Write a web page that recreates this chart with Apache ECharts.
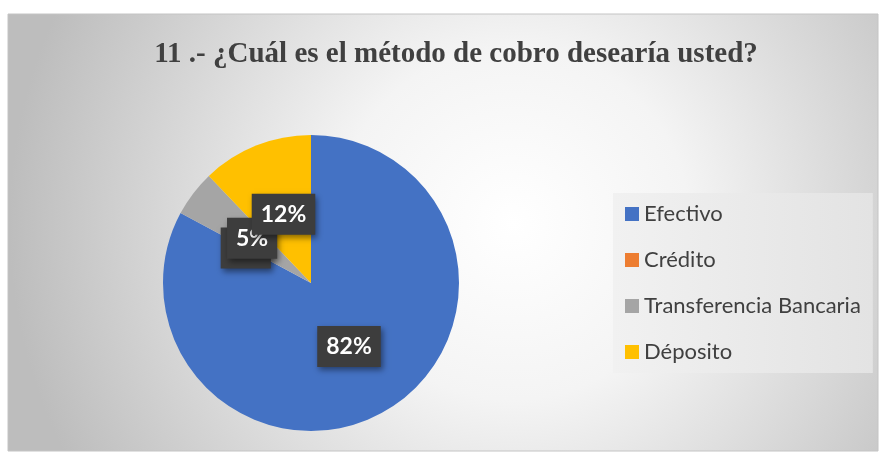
<!DOCTYPE html>
<html lang="es">
<head>
    <meta charset="UTF-8">
    <title>Método de cobro</title>
    <script src="https://cdn.jsdelivr.net/npm/echarts@6/dist/echarts.min.js"></script>
    <style>
        html, body { margin: 0; padding: 0; background: #fff; }
        #chart { width: 880px; height: 452px; }
    </style>
</head>
<body>
    <div id="chart"></div>
    <script>
        // datos
        const titulo = '11 .- ¿Cuál es el método de cobro desearía usted?';
        const categorias = ['Efectivo', 'Crédito', 'Transferencia Bancaria', 'Déposito'];
        const porcentajes = [82, 0, 5, 12];
        const colores = ['#4472C4', '#ED7D31', '#A5A5A5', '#FFC000'];

        const total = porcentajes.reduce((a, b) => a + b, 0);

        // etiquetas: punto medio de cada sector, a media altura del radio
        let acumulado = 0;
        const etiquetas = porcentajes.map(v => {
            const medio = acumulado + v / 2;
            acumulado += v;
            return [0.5, medio, v];
        });

        const chart = echarts.init(document.getElementById('chart'));

        const estiloEtiqueta = {
            show: true,
            position: 'inside',
            formatter: p => p.value[2] + '%',
            fontFamily: 'Lato',
            fontWeight: 'bold',
            fontSize: 23,
            lineHeight: 25,
            color: '#ffffff',
            opacity: 1,
            backgroundColor: '#3d3d3d',
            padding: [8, 9, 8, 9],
            shadowColor: 'rgba(0,0,0,0.45)',
            shadowBlur: 6,
            shadowOffsetX: 2,
            shadowOffsetY: 3
        };

        const option = {
            backgroundColor: '#ffffff',
            color: colores,
            graphic: [{
                type: 'rect',
                z: -10,
                silent: true,
                shape: { x: 8, y: 14, width: 870, height: 437 },
                style: {
                    fill: {
                        type: 'radial', x: 0.58, y: 0.48, r: 1.15,
                        colorStops: [
                            { offset: 0, color: '#ffffff' },
                            { offset: 0.35, color: '#f4f4f4' },
                            { offset: 1, color: '#bdbdbd' }
                        ]
                    },
                    stroke: '#c4c4c4',
                    lineWidth: 1
                }
            }],
            title: {
                text: titulo,
                left: 451,
                top: 35,
                textAlign: 'center',
                textStyle: {
                    fontFamily: 'Liberation Serif',
                    fontWeight: 'bold',
                    fontSize: 29,
                    color: '#404040'
                }
            },
            legend: {
                orient: 'vertical',
                left: 613,
                top: 193,
                padding: [10, 12, 10, 12],
                itemWidth: 14,
                itemHeight: 14,
                itemGap: 24,
                icon: 'rect',
                backgroundColor: {
                    type: 'linear', x: 0, y: 0, x2: 1, y2: 0,
                    colorStops: [
                        { offset: 0, color: '#f1f1f1' },
                        { offset: 1, color: '#e3e3e3' }
                    ]
                },
                textStyle: {
                    fontFamily: 'Lato',
                    fontSize: 22,
                    color: '#404040'
                },
                data: categorias
            },
            polar: { center: [311, 283], radius: 148 },
            angleAxis: {
                type: 'value', min: 0, max: total,
                startAngle: 90, clockwise: true, show: false
            },
            radiusAxis: { type: 'value', min: 0, max: 1, show: false },
            series: [{
                type: 'pie',
                center: [311, 283],
                radius: 148,
                startAngle: 90,
                clockwise: true,
                animation: false,
                itemStyle: { borderWidth: 0 },
                label: { show: false },
                labelLine: { show: false },
                emphasis: { disabled: true },
                data: categorias.map((c, i) => ({ name: c, value: porcentajes[i] }))
            }, {
                type: 'scatter',
                coordinateSystem: 'polar',
                symbolSize: 0,
                itemStyle: { color: 'transparent', opacity: 1 },
                animation: false,
                silent: true,
                z: 5,
                label: estiloEtiqueta,
                data: etiquetas
            }]
        };

        chart.setOption(option);
    </script>
</body>
</html>
